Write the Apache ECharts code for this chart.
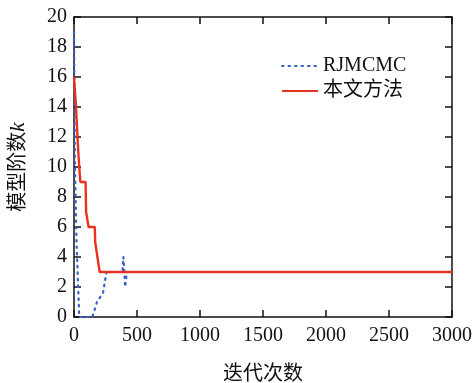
<!DOCTYPE html>
<html>
<head>
<meta charset="utf-8">
<script src="https://cdn.jsdelivr.net/npm/echarts@6/dist/echarts.min.js"></script>
<style>
  html, body { margin: 0; padding: 0; background: #fff; }
  #main { width: 476px; height: 383px; }
</style>
</head>
<body>
<div id="main"></div>
<script>
// iteration / model order pairs
const rjIter = [0, 8, 20, 42, 145, 168, 182, 230, 258, 385, 392, 400, 405, 412, 418, 3000];
const rjOrder = [19, 10, 5, 0, 0, 0.6, 1, 1.6, 3, 3, 4, 3, 2, 2.4, 3, 3];
const ourIter = [0, 16, 34, 40, 50, 92, 96, 110, 116, 165, 168, 183, 186, 196, 204, 3000];
const ourOrder = [16, 14, 11, 11, 9, 9, 7, 7, 6, 6, 5, 5, 4, 4, 3, 3];
const xTicks = [0, 500, 1000, 1500, 2000, 2500, 3000];
const yTicks = [0, 2, 4, 6, 8, 10, 12, 14, 16, 18, 20];

const serif = "'Liberation Serif', 'Times New Roman', 'Noto Sans CJK SC', serif";
const pair = (xs, ys) => xs.map((x, i) => [x, ys[i]]);

const chart = echarts.init(document.getElementById("main"));

const gridBox = { left: 74, right: 24, top: 17, bottom: 66, outerBoundsMode: "none", containLabel: false };

const frameAxis = (extra) => Object.assign({
  type: "value",
  axisLine: { show: true, onZero: false, lineStyle: { color: "#111", width: 1.5 } },
  axisTick: { show: true, inside: true, length: 7, lineStyle: { color: "#111", width: 1.5 } },
  splitLine: { show: false },
}, extra);

chart.setOption({
  animation: false,
  grid: [
    { ...gridBox },
    { ...gridBox },
  ],
  legend: {
    left: 276,
    top: 51,
    orient: "vertical",
    itemWidth: 36,
    itemHeight: 10,
    itemGap: 5,
    itemStyle: { opacity: 0 },
    textStyle: { fontFamily: serif, fontSize: 20, color: "#111" },
    data: ["RJMCMC", "本文方法"],
  },
  xAxis: [
    frameAxis({
      gridIndex: 0,
      min: 0,
      max: 3000,
      interval: 500,
      name: "迭代次数",
      nameLocation: "middle",
      nameGap: 48,
      nameTextStyle: { fontFamily: serif, fontSize: 20, color: "#111" },
      axisLabel: { fontFamily: serif, fontSize: 20, color: "#111", margin: 9,
        formatter: (v) => (xTicks.includes(v) ? String(v) : "") },
    }),
    frameAxis({ gridIndex: 1, position: "top", min: 0, max: 3000, interval: 500,
      axisLabel: { show: false } }),
  ],
  yAxis: [
    frameAxis({
      gridIndex: 0,
      min: 0,
      max: 20,
      interval: 2,
      name: "{a|模型阶数}{b|k}",
      nameLocation: "middle",
      nameGap: 45,
      nameRotate: 90,
      nameTextStyle: {
        rich: {
          a: { fontFamily: serif, fontSize: 20, color: "#111" },
          b: { fontFamily: serif, fontSize: 21, fontStyle: "italic", color: "#111" },
        },
      },
      axisLabel: { fontFamily: serif, fontSize: 20, color: "#111", margin: 7,
        formatter: (v) => (yTicks.includes(v) ? String(v) : "") },
    }),
    frameAxis({ gridIndex: 1, position: "right", min: 0, max: 20, interval: 2,
      axisLabel: { show: false } }),
  ],
  series: [
    {
      name: "RJMCMC",
      type: "line",
      symbol: "none",
      data: pair(rjIter, rjOrder),
      lineStyle: { color: "#3a5fc8", width: 2.2, type: [1.5, 5], cap: "round" },
      itemStyle: { color: "#3a5fc8" },
      z: 2,
    },
    {
      name: "本文方法",
      type: "line",
      symbol: "none",
      data: pair(ourIter, ourOrder),
      lineStyle: { color: "#e8321e", width: 2.4 },
      itemStyle: { color: "#e8321e" },
      z: 3,
    },
    {
      // drives the top / right tick axes
      type: "line",
      xAxisIndex: 1,
      yAxisIndex: 1,
      symbol: "none",
      silent: true,
      data: pair(ourIter, ourOrder),
      lineStyle: { opacity: 0 },
    },
  ],
});
</script>
</body>
</html>
